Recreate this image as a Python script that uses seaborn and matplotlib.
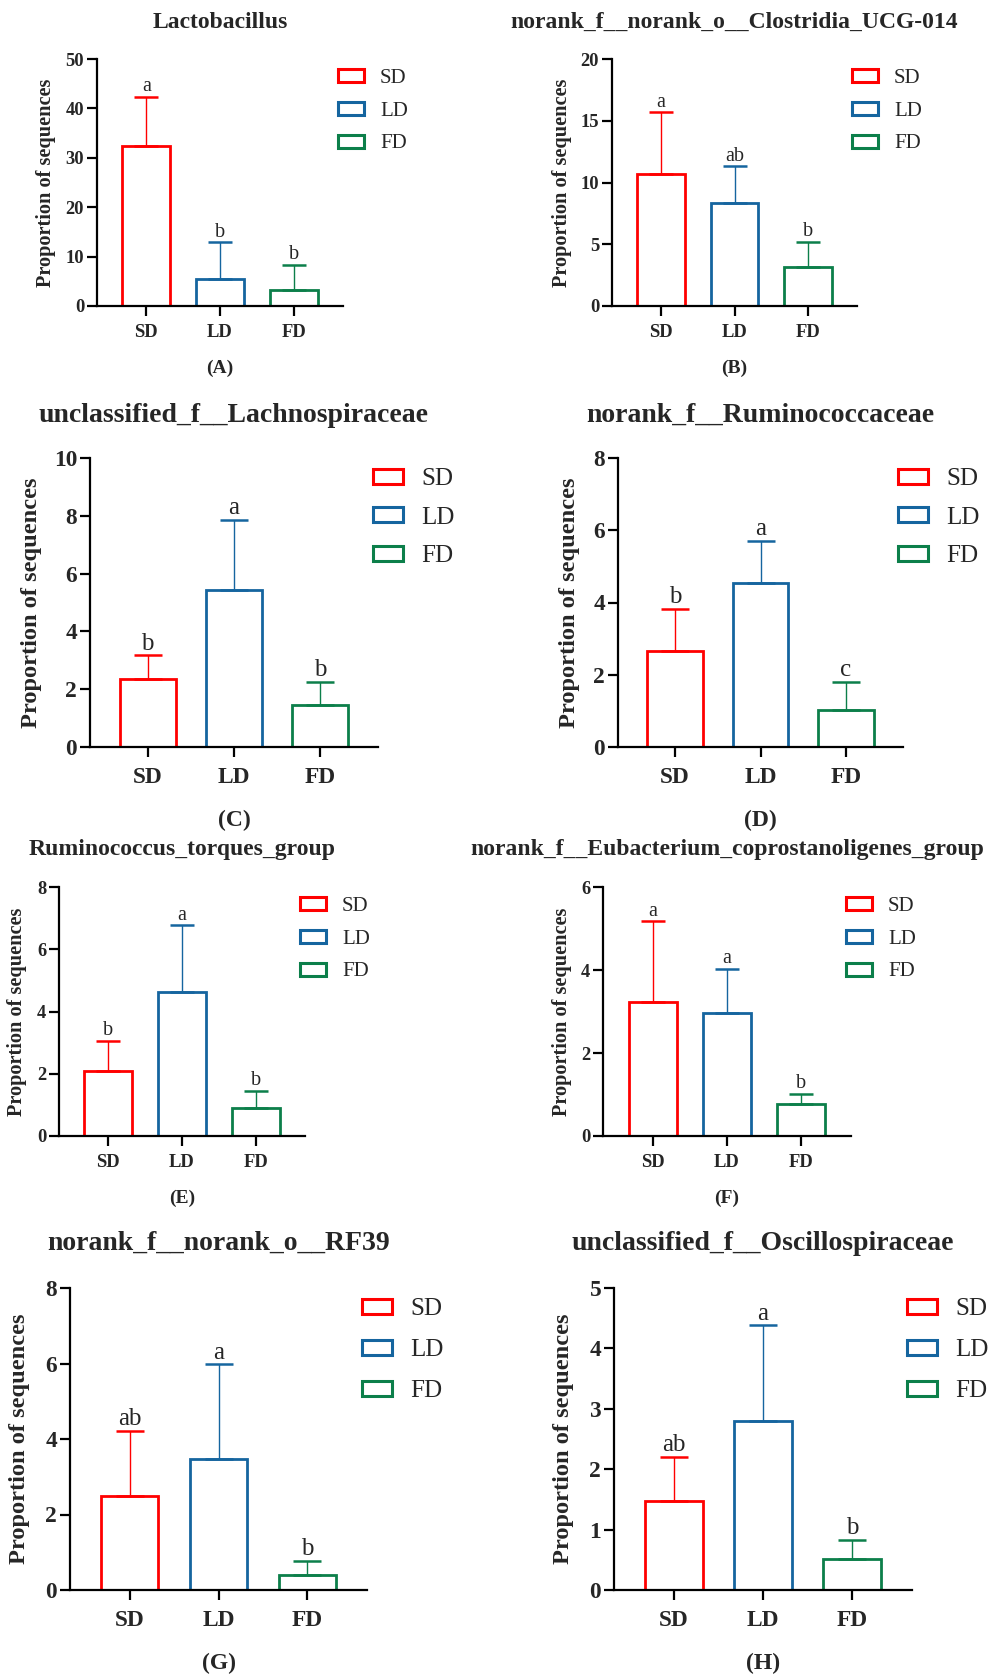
import numpy as np
import pandas as pd
import seaborn as sns
import matplotlib.pyplot as plt
from matplotlib.patches import Patch
from matplotlib.transforms import blended_transform_factory

# ---------------- data ----------------
groups = ['SD', 'LD', 'FD']
colors = ['#FF0000', '#15659F', '#0C7F4A']

titles = ['Lactobacillus',
          'norank_f__norank_o__Clostridia_UCG-014',
          'unclassified_f__Lachnospiraceae',
          'norank_f__Ruminococcaceae',
          'Ruminococcus_torques_group',
          'norank_f__Eubacterium_coprostanoligenes_group',
          'norank_f__norank_o__RF39',
          'unclassified_f__Oscillospiraceae']
tags = ['(A)', '(B)', '(C)', '(D)', '(E)', '(F)', '(G)', '(H)']

mean_A = [32.3, 5.55, 3.25]
sd_A = [10.1, 7.35, 5.15]
mean_B = [10.65, 8.38, 3.19]
sd_B = [5.03, 2.92, 2.03]
mean_C = [2.35, 5.43, 1.46]
sd_C = [0.82, 2.42, 0.80]
mean_D = [2.65, 4.55, 1.02]
sd_D = [1.18, 1.16, 0.79]
mean_E = [2.09, 4.62, 0.91]
sd_E = [0.96, 2.15, 0.53]
mean_F = [3.22, 2.97, 0.77]
sd_F = [1.95, 1.05, 0.24]
mean_G = [2.49, 3.47, 0.40]
sd_G = [1.73, 2.51, 0.38]
mean_H = [1.47, 2.79, 0.51]
sd_H = [0.74, 1.59, 0.32]

letters_A = ['a', 'b', 'b']
letters_B = ['a', 'ab', 'b']
letters_C = ['b', 'a', 'b']
letters_D = ['b', 'a', 'c']
letters_E = ['b', 'a', 'b']
letters_F = ['a', 'a', 'b']
letters_G = ['ab', 'a', 'b']
letters_H = ['ab', 'a', 'b']

y_max = [50, 20, 10, 8, 8, 6, 8, 5]
y_step = [10, 5, 2, 2, 2, 2, 2, 1]

means = [mean_A, mean_B, mean_C, mean_D, mean_E, mean_F, mean_G, mean_H]
sds = [sd_A, sd_B, sd_C, sd_D, sd_E, sd_F, sd_G, sd_H]
letters = [letters_A, letters_B, letters_C, letters_D,
           letters_E, letters_F, letters_G, letters_H]

# ---------------- layout (pixels) ----------------
W, H = 989, 1677
boxes = [(97, 59, 343, 306), (612, 59, 857, 306),
         (90, 458, 378, 747), (618, 458, 903, 747),
         (59, 887, 305, 1136), (603, 887, 851, 1136),
         (70, 1288, 367, 1590), (614, 1288, 912, 1590)]
title_y = [22, 22, 415, 415, 850, 850, 1243, 1243]
tag_y = [368, 368, 820, 820, 1198, 1198, 1663, 1663]
ylabel_x = [46, 562, 32, 570, 17, 562, 20, 564]
large = [False, False, True, True, False, False, True, True]
leg_spacing = [0.66, 0.66, 0.66, 0.66, 0.66, 0.66, 0.76, 0.76]

small_style = dict(tick=13.3, ylab=14.6, title=17, leg=15, let=14.5, tag=14,
                   cap=8.6, hl=1.25, hh=0.58, htp=0.77, xpad=5.5)
large_style = dict(tick=16.8, ylab=17.6, title=20, leg=18, let=18, tag=17,
                   cap=10, hl=1.2, hh=0.56, htp=0.72, xpad=7)

sns.set_style('ticks')
plt.rcParams['font.family'] = ['Liberation Serif', 'DejaVu Serif']

fig = plt.figure(figsize=(W / 100, H / 100), dpi=100)

for i in range(8):
    st = large_style if large[i] else small_style
    l, t, r, b = boxes[i]
    ax = fig.add_axes([l / W, 1 - b / H, (r - l) / W, (b - t) / H])
    df = pd.DataFrame({'group': groups, 'value': means[i]})
    sns.barplot(data=df, x='group', y='value', hue='group', order=groups,
                hue_order=groups, palette=colors, fill=False, linewidth=2.0,
                width=0.65, errorbar=None, legend=False, ax=ax)
    for j in range(3):
        ax.errorbar(j, means[i][j], yerr=[[0], [sds[i][j]]], fmt='none',
                    ecolor=colors[j], elinewidth=1.0, capsize=st['cap'],
                    capthick=1.8, zorder=3)
        ax.annotate(letters[i][j], (j, means[i][j] + sds[i][j]),
                    xytext=(0, 0.5), textcoords='offset points',
                    ha='center', va='bottom', fontsize=st['let'])
    ax.set_xlim(-0.67, 2.67)
    ax.set_ylim(0, y_max[i])
    ax.set_yticks(np.arange(0, y_max[i] + y_step[i] / 2, y_step[i]))
    sns.despine(ax=ax)
    for s in ['left', 'bottom']:
        ax.spines[s].set_linewidth(1.6)
        ax.spines[s].set_color('black')
    ax.tick_params(axis='both', direction='out', length=7.2, width=1.6,
                   color='black', labelsize=st['tick'])
    ax.tick_params(axis='y', pad=2)
    ax.tick_params(axis='x', pad=st['xpad'])
    for lab in ax.get_xticklabels() + ax.get_yticklabels():
        lab.set_fontweight('bold')
    ax.set_xlabel('')
    ax.set_ylabel('')
    fig.text(ylabel_x[i] / W, 1 - ((t + b) / 2) / H, 'Proportion of sequences',
             rotation=90, ha='center', va='center', fontsize=st['ylab'],
             fontweight='bold')
    tr = blended_transform_factory(ax.transData, fig.transFigure)
    ax.text(1, 1 - title_y[i] / H, titles[i], transform=tr, ha='center',
            va='center', fontsize=st['title'], fontweight='bold')
    ax.text(1, 1 - tag_y[i] / H, tags[i], transform=tr, ha='center',
            va='center', fontsize=st['tag'], fontweight='bold')
    handles = [Patch(facecolor='none', edgecolor=c, linewidth=2.2) for c in colors]
    ax.legend(handles, groups, loc='upper left',
              bbox_to_anchor=((r - 5) / W, 1 - (t + 10) / H),
              bbox_transform=fig.transFigure, frameon=False, borderpad=0,
              borderaxespad=0, handlelength=st['hl'], handleheight=st['hh'],
              handletextpad=st['htp'], labelspacing=leg_spacing[i],
              fontsize=st['leg'])

fig.savefig('out.png', dpi=100, facecolor='white')
